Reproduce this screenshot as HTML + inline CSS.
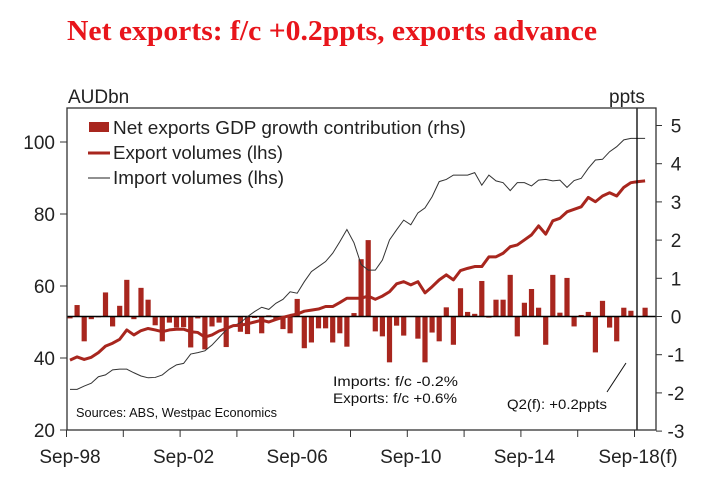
<!DOCTYPE html>
<html><head><meta charset="utf-8"><style>
body{margin:0;background:#fff;}
svg{display:block;font-family:"Liberation Sans",Arial,sans-serif;}
</style></head><body>
<svg id="c" width="719" height="485" viewBox="0 0 719 485">
<text x="67" y="40" fill="#e8151b" font-family="Liberation Serif,serif" font-weight="bold" font-size="28" textLength="530" lengthAdjust="spacingAndGlyphs">Net exports: f/c +0.2ppts, exports advance</text>
<text x="68" y="103" font-size="19" fill="#222">AUDbn</text>
<text x="609" y="103" font-size="19" fill="#222">ppts</text>
<g id="plot"></g>
<g>
<rect x="89" y="122" width="20" height="10" fill="#a8261e"/>
<text x="113" y="134" font-size="18" fill="#222" textLength="353" lengthAdjust="spacingAndGlyphs">Net exports GDP growth contribution (rhs)</text>
<line x1="88" y1="153" x2="110" y2="153" stroke="#a8261e" stroke-width="3"/>
<text x="113" y="159" font-size="18" fill="#222" textLength="170" lengthAdjust="spacingAndGlyphs">Export volumes (lhs)</text>
<line x1="88" y1="178" x2="110" y2="178" stroke="#222" stroke-width="1"/>
<text x="113" y="184" font-size="18" fill="#222" textLength="171" lengthAdjust="spacingAndGlyphs">Import volumes (lhs)</text>
</g>
<text x="333" y="386" font-size="14" fill="#111" textLength="125" lengthAdjust="spacingAndGlyphs">Imports: f/c  -0.2%</text>
<text x="333" y="403" font-size="14" fill="#111" textLength="124" lengthAdjust="spacingAndGlyphs">Exports: f/c +0.6%</text>
<text x="76" y="417" font-size="12.5" fill="#111" textLength="201" lengthAdjust="spacingAndGlyphs">Sources: ABS, Westpac Economics</text>
<text x="507" y="409" font-size="14" fill="#111" textLength="100" lengthAdjust="spacingAndGlyphs">Q2(f): +0.2ppts</text>
<line x1="607" y1="392" x2="626" y2="363" stroke="#111" stroke-width="1"/>
</svg>
<script>
const netExports=[-0.05,0.3,-0.65,-0.07,-0.02,0.63,-0.26,0.28,0.96,-0.07,0.75,0.44,-0.23,-0.65,-0.16,-0.29,-0.28,-0.81,-0.05,-0.86,-0.26,-0.16,-0.8,0,-0.4,-0.46,-0.04,-0.44,0.03,-0.09,-0.33,-0.44,0.46,-0.83,-0.68,-0.31,-0.31,-0.68,-0.44,-0.79,0.09,1.5,2.0,-0.39,-0.52,-1.2,-0.24,-0.5,0,-0.58,-1.2,-0.42,-0.65,0.24,-0.74,0.74,0.12,0.07,0.93,-0.03,0.44,0.44,1.09,-0.52,0.36,0.72,0.23,-0.74,1.09,0.1,1.01,-0.26,0.04,0.12,-0.94,0.41,-0.29,-0.65,0.23,0.15,0,0.23];
const exportVol=[39.4,40.3,39.6,40.2,41.5,43.3,44.1,45.2,47.8,46.4,47.6,48.2,47.8,47.3,47.8,48,48,47.3,47.1,45.8,46.4,47.5,48.2,49,49.1,49.5,50,50.5,50,50.7,51.3,51.8,52.2,53,53.3,53.6,54.3,54.3,55.4,56.6,56.6,56.6,57.2,56.3,57.2,58.4,60.6,61.2,60.3,61.2,58.1,59.8,61.7,63.1,61.7,64.3,64.9,65.4,65.4,68.1,68.1,69.1,70.9,71.4,72.8,74.2,76.7,74.4,78.1,78.8,80.6,81.3,82,84.6,83.4,85,85.9,85,87.4,88.7,89,89.2];
const importVol=[31.3,31.3,32.2,33,34.8,35.3,36.7,36.9,36.9,35.9,35,34.5,34.6,35.3,36.9,38.1,38.5,41.1,41.5,42,43.6,45.7,47.8,48.9,49.8,51.5,52.9,54.1,53.5,55.2,56.3,58.4,58,61.2,64,65.4,66.8,69.1,72.3,75.7,72,66,64.4,64.4,67.2,72.8,75.6,78.3,77,80.3,81.7,84.8,89,89.6,90.8,90.8,90.8,91.5,88,90.8,89.2,88.7,86.5,88.7,88.7,87.8,89.4,89.6,89.2,89.4,87.4,89.3,89.9,92.7,95,95.2,97.3,98.7,100.6,101,101,101];
const leftTicks=[20,40,60,80,100];
const rightTicks=[-3,-2,-1,0,1,2,3,4,5];
const xLabels=["Sep-98","Sep-02","Sep-06","Sep-10","Sep-14","Sep-18(f)"];
const NS="http://www.w3.org/2000/svg";
const g=document.getElementById('plot');
const X0=67,X1=656,Y0=108,Y1=430;
const x=i=>70+i*7.1;
const yL=v=>430-(v-20)*3.6;
const yR=v=>316.5-v*38.2;
function mk(t,a){const e=document.createElementNS(NS,t);for(const k in a)e.setAttribute(k,a[k]);g.appendChild(e);return e;}
netExports.forEach((v,i)=>{
 const y0=yR(0),y1=yR(v);
 const r=mk('rect',{x:x(i)-2.6,y:Math.min(y0,y1),width:5.2,height:Math.abs(y1-y0),fill:'#a8261e'});
 
 
});
const z=mk('line',{x1:X0,x2:X1,y1:yR(0),y2:yR(0),stroke:'#000','stroke-width':1.5});


const imp=mk('polyline',{points:importVol.map((v,i)=>x(i)+','+yL(v)).join(' '),fill:'none',stroke:'#333','stroke-width':1});


const exp=mk('polyline',{points:exportVol.map((v,i)=>x(i)+','+yL(v)).join(' '),fill:'none',stroke:'#a8261e','stroke-width':3,'stroke-linejoin':'round'});


const fl=mk('line',{x1:x(80)-1,x2:x(80)-1,y1:Y0,y2:Y1,stroke:'#000','stroke-width':1.3});


const fr=mk('rect',{x:X0,y:Y0,width:X1-X0,height:Y1-Y0,fill:'none',stroke:'#333','stroke-width':1.3});


leftTicks.forEach(v=>{
 mk('line',{x1:X0-7,x2:X0,y1:yL(v),y2:yL(v),stroke:'#333'});
 const t=mk('text',{x:X0-12,y:yL(v)+7,'text-anchor':'end','font-size':19,fill:'#222'});t.textContent=v;
 
 
});
rightTicks.forEach(v=>{
 mk('line',{x1:X1,x2:X1+6,y1:yR(v),y2:yR(v),stroke:'#333'});
 const t=mk('text',{x:X1+20,y:yR(v)+7,'text-anchor':'middle','font-size':19,fill:'#222'});t.textContent=v;
 
 
});
for(let k=0;k<=80;k+=8){mk('line',{x1:x(k)-3.5,x2:x(k)-3.5,y1:Y1,y2:Y1+7,stroke:'#333'});}
xLabels.forEach((s,j)=>{
 const t=mk('text',{x:x(j*16),y:463,'text-anchor':'middle','font-size':19,fill:'#222'});t.textContent=s;
 
 
});
</script>
</body></html>
